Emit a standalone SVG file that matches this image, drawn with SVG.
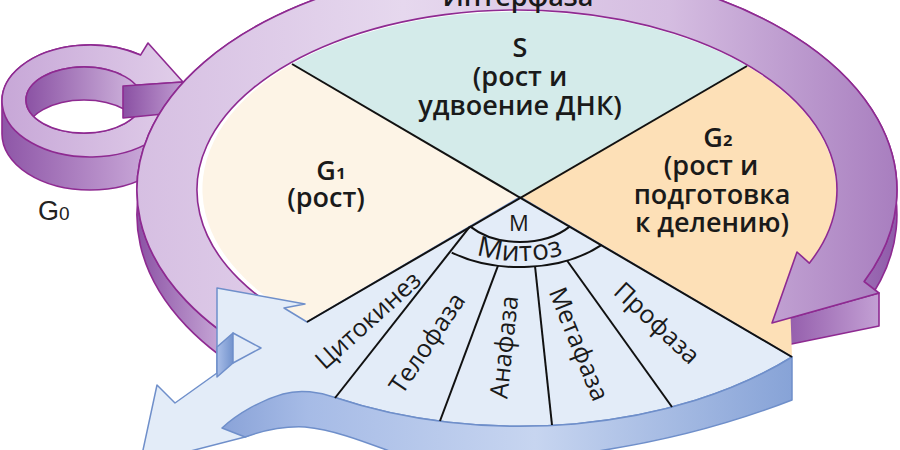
<svg xmlns="http://www.w3.org/2000/svg" width="900" height="450" viewBox="0 0 900 450">
<defs>
  <linearGradient id="ringTop" gradientUnits="userSpaceOnUse" x1="137" y1="0" x2="897" y2="0">
    <stop offset="0" stop-color="#d6bfe2"/>
    <stop offset="0.35" stop-color="#e6d8ee"/>
    <stop offset="0.7" stop-color="#d5bde1"/>
    <stop offset="1" stop-color="#a87ebf"/>
  </linearGradient>
  <linearGradient id="ringSide" gradientUnits="userSpaceOnUse" x1="137" y1="0" x2="897" y2="0">
    <stop offset="0" stop-color="#8b52a4"/>
    <stop offset="0.11" stop-color="#c6a6d6"/>
    <stop offset="0.88" stop-color="#b08ac6"/>
    <stop offset="1" stop-color="#8f5aa9"/>
  </linearGradient>
  <linearGradient id="headSide" gradientUnits="userSpaceOnUse" x1="772" y1="0" x2="879" y2="0">
    <stop offset="0" stop-color="#8c52a5"/>
    <stop offset="1" stop-color="#c3a0d4"/>
  </linearGradient>
  <linearGradient id="g0Side" gradientUnits="userSpaceOnUse" x1="2" y1="0" x2="150" y2="0">
    <stop offset="0" stop-color="#8e56a7"/>
    <stop offset="1" stop-color="#caa9d9"/>
  </linearGradient>
  <linearGradient id="g0Top" gradientUnits="userSpaceOnUse" x1="2" y1="0" x2="180" y2="0">
    <stop offset="0" stop-color="#c7a7d7"/>
    <stop offset="1" stop-color="#e0cde9"/>
  </linearGradient>
  <linearGradient id="g0Wall" gradientUnits="userSpaceOnUse" x1="26" y1="0" x2="142" y2="0">
    <stop offset="0" stop-color="#8b52a4"/>
    <stop offset="1" stop-color="#d3bae0"/>
  </linearGradient>
  <linearGradient id="g0Head" gradientUnits="userSpaceOnUse" x1="123" y1="0" x2="183" y2="0">
    <stop offset="0" stop-color="#8a50a3"/>
    <stop offset="1" stop-color="#c09bd1"/>
  </linearGradient>
  <linearGradient id="band" gradientUnits="userSpaceOnUse" x1="222" y1="0" x2="792" y2="0">
    <stop offset="0" stop-color="#8aa3d8"/>
    <stop offset="0.15" stop-color="#a6bbe6"/>
    <stop offset="0.55" stop-color="#c7d5f0"/>
    <stop offset="1" stop-color="#87a3d7"/>
  </linearGradient>
  <linearGradient id="bitSide" gradientUnits="userSpaceOnUse" x1="217" y1="0" x2="233" y2="0">
    <stop offset="0" stop-color="#a9bee8"/>
    <stop offset="1" stop-color="#7393cd"/>
  </linearGradient>
  <clipPath id="holeClip"><ellipse cx="84" cy="100" rx="58" ry="33"/></clipPath>
  <path id="mitozPath" d="M420,197 A100,64 0 0 0 620,197"/>
</defs>
<style>
  .pst{stroke:#8e2a91;stroke-width:1.6;stroke-linejoin:round}
  .bst{stroke:#6f8fca;stroke-width:1.5;stroke-linejoin:round}
  .ln{fill:none;stroke:#111;stroke-width:2}
  .t{font-family:"Open Sans","Noto Sans","DejaVu Sans",sans-serif;fill:#1a1a1a;text-anchor:middle}
  .b{font-size:27px;font-weight:600}
  .r{font-size:25px;font-weight:400}
</style>
<rect width="900" height="450" fill="#ffffff"/>

<g id="g0-loop">
  <path class="pst" fill="url(#g0Side)" d="M2,101 L2,134 A88,56 0 0 0 178,134 L178,101 A88,56 0 0 0 2,101 Z"/>
  <path class="pst" fill="url(#g0Top)" d="M152.2,140.6 A88,56 0 1 1 140.5,55.1 L148,43 L183,82 L123,86 L121,74.5 L117.3,73 A58,33 0 1 0 142,100 L200,100 L200,150 Z"/>
  <ellipse cx="84" cy="100" rx="58" ry="33" fill="url(#g0Wall)"/>
  <ellipse cx="84" cy="133" rx="58" ry="33" fill="#ffffff" class="pst" clip-path="url(#holeClip)"/>
  <ellipse cx="84" cy="100" rx="58" ry="33" fill="none" class="pst"/>
  <path class="pst" fill="url(#g0Head)" d="M123,86 L183,82 L183,112 L123,118 Z"/>
</g>

<g id="interphase-ring-side">
  <path class="pst" fill="url(#ringSide)" d="M272.7,362.4 A380,225 0 1 1 864.1,281.5 L864.1,306.5 A380,225 0 1 0 272.7,387.4 Z"/>
  <path class="pst" fill="url(#headSide)" d="M772,323 L879,293 L879,326 L772,348 Z"/>
</g>

<g id="sector-S">
  <path fill="#d4ebea" d="M520,197 L292,64 A320,180 0 0 1 747,66 Z"/>
</g>
<g id="sector-G1">
  <path fill="#fdf4e6" d="M520,197 L307,322 A320,180 0 0 1 292,64 Z"/>
</g>
<g id="sector-G2">
  <path fill="#fde0b7" d="M520,197 L747,66 A320,180 0 0 1 809.3,263.2 L790,300 L792,357 Z"/>
</g>

<g id="interphase-ring">
  <path class="pst" fill="url(#ringTop)" d="M272.7,362.4 A380,225 0 1 1 864.1,281.5 L879,293 L772,323 L797,252 L809.3,263.2 A320,180 0 1 0 311.3,327.9 Z"/>
</g>

<g id="mitosis-fan">
  <path class="bst" fill="#e3ecf8" d="M520,197 L307,322 L284,308 L305,304 L217,288 L217,373 L175,403 L157,385 L140,464 L245,437 L290,418 L335,397.5 A380,229 0 0 0 792,357 Z"/>
  <path class="bst" fill="url(#bitSide)" d="M217,347 L233,333 L233,363 L217,377 Z"/>
  <path class="bst" fill="#e3ecf8" d="M233,333 L261,348 L233,363 Z"/>
  <path class="bst" fill="url(#band)" d="M792,357 A380,229 0 0 1 335,397.5 C320,392 300,389 283,394 C262,400 238,413 222,428 L245,437 C262,431 285,426 305,427 C335,430 365,442 392,452 L560,456 C640,447 720,428 792,400 Z"/>
</g>

<g id="connectors">
  <path class="ln" d="M292,64 L792,357"/>
  <path class="ln" d="M747,66 L307,322"/>
  <path class="ln" d="M470,226.4 A66,45 0 0 0 570,226.4"/>
  <path class="ln" d="M451.7,252.6 A112,70 0 0 0 601.7,244.9"/>
  <path class="ln" d="M470,226.4 L335,398"/>
  <path class="ln" d="M498,265.6 L440,421"/>
  <path class="ln" d="M535,266 L552,425"/>
  <path class="ln" d="M567,260.5 L672,407"/>
</g>

<g id="labels">
  <text class="t b" x="518" y="6">Интерфаза</text>
  <text class="t b" x="520" y="57">S</text>
  <text class="t b" x="520" y="86">(рост и</text>
  <text class="t b" x="520" y="114.5">удвоение ДНК)</text>
  <text class="t b" x="331" y="180">G<tspan dy="-4">₁</tspan></text>
  <text class="t b" x="326" y="207">(рост)</text>
  <text class="t b" x="718" y="147">G<tspan dy="-4">₂</tspan></text>
  <text class="t b" x="711" y="175">(рост и</text>
  <text class="t b" x="712" y="203.5">подготовка</text>
  <text class="t b" x="712" y="232">к делению)</text>
  <text class="t" x="519" y="231" font-size="22">M</text>
  <text class="t" font-size="28" font-weight="500" letter-spacing="0.5"><textPath href="#mitozPath" startOffset="50%">Митоз</textPath></text>
  <text class="t r" x="368" y="320" dy="0.35em" transform="rotate(-42 368 320)">Цитокинез</text>
  <text class="t r" x="427" y="343" dy="0.35em" transform="rotate(-56 427 343)">Телофаза</text>
  <text class="t r" x="504" y="347" dy="0.35em" transform="rotate(-84 504 347)">Анафаза</text>
  <text class="t r" x="579" y="344" dy="0.35em" transform="rotate(68 579 344)">Метафаза</text>
  <text class="t r" x="657" y="323" dy="0.35em" transform="rotate(43 657 323)">Профаза</text>
  <text x="38" y="220" font-family="'Liberation Sans',Arial,sans-serif" font-size="27" fill="#222">G<tspan font-size="19">0</tspan></text>
</g>
</svg>
